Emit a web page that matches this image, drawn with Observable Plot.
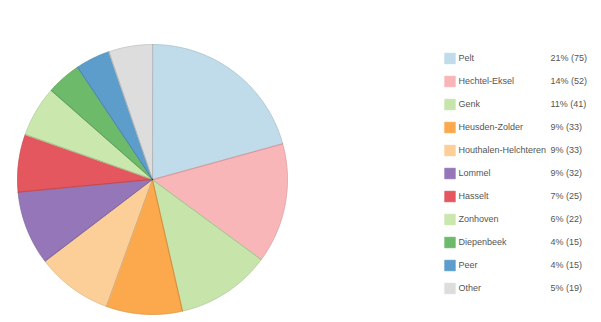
<!DOCTYPE html>
<html>
<head>
<meta charset="utf-8">
<script src="https://cdn.jsdelivr.net/npm/d3@7"></script>
<script src="https://cdn.jsdelivr.net/npm/@observablehq/plot@0.6"></script>
<style>
  html, body { margin: 0; padding: 0; background: #ffffff; }
  #wrap { position: relative; width: 601px; height: 322px; overflow: hidden; font-family: "Liberation Sans", Arial, sans-serif; }
  #pie { position: absolute; left: 0; top: 0; }
  #legend { position: absolute; left: 440px; top: 0; }
</style>
</head>
<body>
<div id="wrap"><div id="pie"></div><div id="legend"></div></div>
<script>
const names = ["Pelt", "Hechtel-Eksel", "Genk", "Heusden-Zolder", "Houthalen-Helchteren", "Lommel", "Hasselt", "Zonhoven", "Diepenbeek", "Peer", "Other"];
const counts = [75, 52, 41, 33, 33, 32, 25, 22, 15, 15, 19];
const colors = ["#c0dbea", "#f8b6b9", "#c7e5ab", "#fba94c", "#fdcf98", "#9577b9", "#e5575f", "#cae7ae", "#6dba6a", "#5c9dcb", "#dddddd"];

const total = d3.sum(counts);
const rows = names.map((name, i) => ({name, count: counts[i], pct: Math.round(counts[i] / total * 100)}));

// slices via d3.pie, converted to polygons in unit coordinates
const arcs = d3.pie().sort(null).value(d => d.count)(rows);
const features = arcs.map(a => {
  const ring = [[0, 0]];
  const n = Math.max(2, Math.ceil((a.endAngle - a.startAngle) / 0.005));
  for (let k = 0; k <= n; k++) {
    const t = a.startAngle + (a.endAngle - a.startAngle) * k / n;
    ring.push([Math.sin(t), -Math.cos(t)]);
  }
  ring.push([0, 0]);
  return {type: "Feature", properties: {name: a.data.name}, geometry: {type: "Polygon", coordinates: [ring]}};
});
const unitSquare = {type: "Polygon", coordinates: [[[-1, -1], [1, -1], [1, 1], [-1, 1], [-1, -1]]]};

const color = {type: "ordinal", domain: names, range: colors};

const pie = Plot.plot({
  width: 305,
  height: 322,
  marginTop: 44,
  marginBottom: 8,
  marginLeft: 17,
  marginRight: 18,
  projection: {type: "identity", reflectY: true, domain: unitSquare},
  color,
  marks: [
    Plot.geo(features, {fill: d => d.properties.name, stroke: d => d.properties.name, strokeWidth: 0.8}),
    Plot.geo(features, {fill: "none", stroke: "#000", strokeOpacity: 0.12, strokeWidth: 0.8})
  ]
});
document.getElementById("pie").appendChild(pie);

const legend = Plot.plot({
  width: 161,
  height: 322,
  marginLeft: 4,
  marginRight: 0,
  marginTop: 0,
  marginBottom: 0,
  style: {fontFamily: "'Liberation Sans', Arial, sans-serif", fontSize: "9px"},
  y: {type: "point", domain: names, range: [58.3, 288.7], padding: 0, axis: null},
  color,
  marks: [
    Plot.dot(rows, {y: "name", frameAnchor: "left", dx: 5.5, symbol: "square", r: 6.1, fill: "name", stroke: "name", strokeWidth: 0.5}),
    Plot.text(rows, {y: "name", text: "name", frameAnchor: "left", dx: 14, textAnchor: "start", fill: "#555", fontSize: 9}),
    Plot.text(rows, {y: "name", text: d => `${d.pct}% (${d.count})`, frameAnchor: "left", dx: 106, textAnchor: "start", fill: "#555", fontSize: 9})
  ]
});
document.getElementById("legend").appendChild(legend);
</script>
</body>
</html>
